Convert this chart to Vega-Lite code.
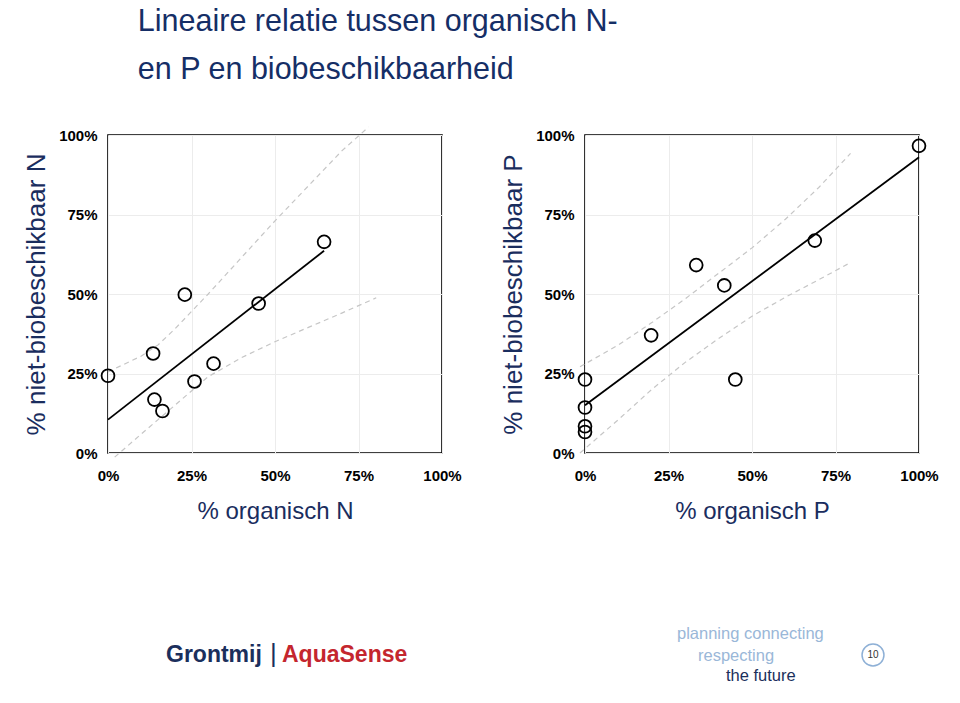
{
  "$schema": "https://vega.github.io/schema/vega-lite/v6.json",
  "background": "white",
  "padding": {"left": 22, "top": 7, "right": 0, "bottom": 0},
  "title": {
    "text": ["Lineaire relatie tussen organisch N-", "en P en biobeschikbaarheid"],
    "anchor": "start",
    "frame": "bounds",
    "fontSize": 30.5,
    "font": "Liberation Sans",
    "fontWeight": "normal",
    "color": "#152e66",
    "lineHeight": 48,
    "dx": 115,
    "offset": 38
  },
  "datasets": {
    "pointsN": [
      {"x": 0.0, "y": 0.243},
      {"x": 0.135, "y": 0.313},
      {"x": 0.23, "y": 0.498},
      {"x": 0.139, "y": 0.168},
      {"x": 0.163, "y": 0.132},
      {"x": 0.259, "y": 0.225},
      {"x": 0.316, "y": 0.281},
      {"x": 0.451, "y": 0.47},
      {"x": 0.647, "y": 0.664}
    ],
    "fitN": [
      {"line": "fit", "x": 0.0, "y": 0.105},
      {"line": "fit", "x": 0.647, "y": 0.636},
      {"line": "upper", "x": 0.0, "y": 0.255},
      {"line": "upper", "x": 0.1, "y": 0.305},
      {"line": "upper", "x": 0.15, "y": 0.34},
      {"line": "upper", "x": 0.2, "y": 0.39},
      {"line": "upper", "x": 0.25, "y": 0.445},
      {"line": "upper", "x": 0.3, "y": 0.5},
      {"line": "upper", "x": 0.4, "y": 0.615},
      {"line": "upper", "x": 0.5, "y": 0.73},
      {"line": "upper", "x": 0.6, "y": 0.84},
      {"line": "upper", "x": 0.7, "y": 0.95},
      {"line": "upper", "x": 0.78, "y": 1.025},
      {"line": "lower", "x": 0.02, "y": -0.013},
      {"line": "lower", "x": 0.1, "y": 0.06},
      {"line": "lower", "x": 0.15, "y": 0.105},
      {"line": "lower", "x": 0.2, "y": 0.15},
      {"line": "lower", "x": 0.25, "y": 0.195},
      {"line": "lower", "x": 0.3, "y": 0.24},
      {"line": "lower", "x": 0.4, "y": 0.3},
      {"line": "lower", "x": 0.5, "y": 0.35},
      {"line": "lower", "x": 0.6, "y": 0.395},
      {"line": "lower", "x": 0.7, "y": 0.44},
      {"line": "lower", "x": 0.803, "y": 0.488}
    ],
    "pointsP": [
      {"x": 1.0, "y": 0.966},
      {"x": 0.688, "y": 0.668},
      {"x": 0.333, "y": 0.591},
      {"x": 0.417, "y": 0.527},
      {"x": 0.198, "y": 0.37},
      {"x": 0.45, "y": 0.231},
      {"x": 0.0, "y": 0.231},
      {"x": 0.0, "y": 0.143},
      {"x": 0.0, "y": 0.084},
      {"x": 0.0, "y": 0.066}
    ],
    "fitP": [
      {"line": "fit", "x": 0.0, "y": 0.15},
      {"line": "fit", "x": 1.0, "y": 0.93},
      {"line": "upper", "x": -0.015, "y": 0.271},
      {"line": "upper", "x": 0.1, "y": 0.34},
      {"line": "upper", "x": 0.2, "y": 0.41},
      {"line": "upper", "x": 0.3, "y": 0.485},
      {"line": "upper", "x": 0.4, "y": 0.565},
      {"line": "upper", "x": 0.5, "y": 0.645},
      {"line": "upper", "x": 0.6, "y": 0.735},
      {"line": "upper", "x": 0.7, "y": 0.835},
      {"line": "upper", "x": 0.795, "y": 0.942},
      {"line": "lower", "x": -0.015, "y": 0.0},
      {"line": "lower", "x": 0.1, "y": 0.105},
      {"line": "lower", "x": 0.2, "y": 0.2},
      {"line": "lower", "x": 0.3, "y": 0.285},
      {"line": "lower", "x": 0.4, "y": 0.36},
      {"line": "lower", "x": 0.5, "y": 0.43},
      {"line": "lower", "x": 0.6, "y": 0.49},
      {"line": "lower", "x": 0.7, "y": 0.545},
      {"line": "lower", "x": 0.795, "y": 0.599}
    ],
    "footer": [
      {"item": "grontmij", "label": "Grontmij"},
      {"item": "sep", "label": "|"},
      {"item": "aquasense", "label": "AquaSense"},
      {"item": "tag1", "label": "planning connecting"},
      {"item": "tag2", "label": "respecting"},
      {"item": "tag3", "label": "the future"},
      {"item": "page", "label": "10"}
    ]
  },
  "vconcat": [
    {
      "hconcat": [
        {
          "width": 334,
          "height": 318,
          "view": {"stroke": "black", "strokeWidth": 1.6, "fill": "white"},
          "layer": [
            {
              "data": {"name": "fitN"},
              "transform": [{"filter": "datum.line !== 'fit'"}],
              "mark": {"type": "line", "stroke": "#c6c6c6", "strokeDash": [5, 4], "strokeWidth": 1.2},
              "encoding": {
                "x": {"field": "x", "type": "quantitative", "scale": {"domain": [0, 1], "nice": false}, "axis": {"title": "% organisch N", "values": [0, 0.25, 0.5, 0.75, 1]}},
                "y": {"field": "y", "type": "quantitative", "scale": {"domain": [0, 1], "nice": false}, "axis": {"title": "% niet-biobeschikbaar N", "values": [0, 0.25, 0.5, 0.75, 1]}},
                "detail": {"field": "line"}
              }
            },
            {
              "data": {"name": "fitN"},
              "transform": [{"filter": "datum.line === 'fit'"}],
              "mark": {"type": "line", "stroke": "black", "strokeWidth": 1.8},
              "encoding": {
                "x": {"field": "x", "type": "quantitative"},
                "y": {"field": "y", "type": "quantitative"}
              }
            },
            {
              "data": {"name": "pointsN"},
              "mark": {"type": "point", "shape": "circle", "filled": false, "stroke": "black", "strokeWidth": 1.8, "size": 165, "opacity": 1},
              "encoding": {
                "x": {"field": "x", "type": "quantitative"},
                "y": {"field": "y", "type": "quantitative"}
              }
            }
          ]
        },
        {
          "width": 334,
          "height": 318,
          "view": {"stroke": "black", "strokeWidth": 1.6, "fill": "white"},
          "layer": [
            {
              "data": {"name": "fitP"},
              "transform": [{"filter": "datum.line !== 'fit'"}],
              "mark": {"type": "line", "stroke": "#c6c6c6", "strokeDash": [5, 4], "strokeWidth": 1.2},
              "encoding": {
                "x": {"field": "x", "type": "quantitative", "scale": {"domain": [0, 1], "nice": false}, "axis": {"title": "% organisch P", "values": [0, 0.25, 0.5, 0.75, 1]}},
                "y": {"field": "y", "type": "quantitative", "scale": {"domain": [0, 1], "nice": false}, "axis": {"title": "% niet-biobeschikbaar P", "values": [0, 0.25, 0.5, 0.75, 1]}},
                "detail": {"field": "line"}
              }
            },
            {
              "data": {"name": "fitP"},
              "transform": [{"filter": "datum.line === 'fit'"}],
              "mark": {"type": "line", "stroke": "black", "strokeWidth": 1.8},
              "encoding": {
                "x": {"field": "x", "type": "quantitative"},
                "y": {"field": "y", "type": "quantitative"}
              }
            },
            {
              "data": {"name": "pointsP"},
              "mark": {"type": "point", "shape": "circle", "filled": false, "stroke": "black", "strokeWidth": 1.8, "size": 165, "opacity": 1},
              "encoding": {
                "x": {"field": "x", "type": "quantitative"},
                "y": {"field": "y", "type": "quantitative"}
              }
            }
          ]
        }
      ],
      "spacing": 37
    },
    {
      "width": 800,
      "height": 100,
      "view": {"stroke": null},
      "data": {"name": "footer"},
      "layer": [
        {
          "transform": [{"filter": "datum.item === 'page'"}],
          "mark": {"type": "point", "shape": "circle", "filled": false, "stroke": "#8eb0d6", "strokeWidth": 1.5, "size": 480, "opacity": 1},
          "encoding": {"x": {"value": 765}, "y": {"value": 56}}
        },
        {
          "transform": [{"filter": "datum.item === 'page'"}],
          "mark": {"type": "text", "fontSize": 10, "font": "Liberation Sans", "align": "center", "baseline": "middle", "color": "#333333"},
          "encoding": {"x": {"value": 765}, "y": {"value": 56}, "text": {"field": "label"}}
        },
        {
          "transform": [{"filter": "datum.item === 'grontmij'"}],
          "mark": {"type": "text", "fontSize": 23, "fontWeight": "bold", "font": "Liberation Sans", "align": "left", "baseline": "middle", "color": "#1b2f5c"},
          "encoding": {"x": {"value": 58}, "y": {"value": 56}, "text": {"field": "label"}}
        },
        {
          "transform": [{"filter": "datum.item === 'sep'"}],
          "mark": {"type": "text", "fontSize": 26, "font": "Liberation Sans", "align": "left", "baseline": "middle", "color": "#1b2f5c"},
          "encoding": {"x": {"value": 162}, "y": {"value": 55}, "text": {"field": "label"}}
        },
        {
          "transform": [{"filter": "datum.item === 'aquasense'"}],
          "mark": {"type": "text", "fontSize": 23, "fontWeight": "bold", "font": "Liberation Sans", "align": "left", "baseline": "middle", "color": "#c4262e"},
          "encoding": {"x": {"value": 174}, "y": {"value": 56}, "text": {"field": "label"}}
        },
        {
          "transform": [{"filter": "datum.item === 'tag1'"}],
          "mark": {"type": "text", "fontSize": 16.5, "font": "Liberation Sans", "align": "left", "baseline": "middle", "color": "#9ab7d8"},
          "encoding": {"x": {"value": 569}, "y": {"value": 35}, "text": {"field": "label"}}
        },
        {
          "transform": [{"filter": "datum.item === 'tag2'"}],
          "mark": {"type": "text", "fontSize": 16.5, "font": "Liberation Sans", "align": "left", "baseline": "middle", "color": "#9ab7d8"},
          "encoding": {"x": {"value": 590}, "y": {"value": 57}, "text": {"field": "label"}}
        },
        {
          "transform": [{"filter": "datum.item === 'tag3'"}],
          "mark": {"type": "text", "fontSize": 16.5, "font": "Liberation Sans", "align": "left", "baseline": "middle", "color": "#1b2f5c"},
          "encoding": {"x": {"value": 618}, "y": {"value": 77}, "text": {"field": "label"}}
        }
      ]
    }
  ],
  "spacing": 75,
  "config": {
    "font": "Liberation Sans",
    "axis": {
      "labelFont": "Liberation Sans",
      "labelFontWeight": "bold",
      "labelFontSize": 15,
      "labelColor": "black",
      "ticks": false,
      "domain": false,
      "grid": true,
      "gridColor": "#ececec",
      "gridWidth": 1,
      "labelFlush": false,
      "labelOverlap": false,
      "format": ".0%",
      "titleFont": "Liberation Sans",
      "titleFontWeight": "normal",
      "titleColor": "#1a2d5e"
    },
    "axisX": {"labelPadding": 15, "titlePadding": 16, "titleFontSize": 24},
    "axisY": {"labelPadding": 11, "titlePadding": 9, "titleFontSize": 26}
  }
}
